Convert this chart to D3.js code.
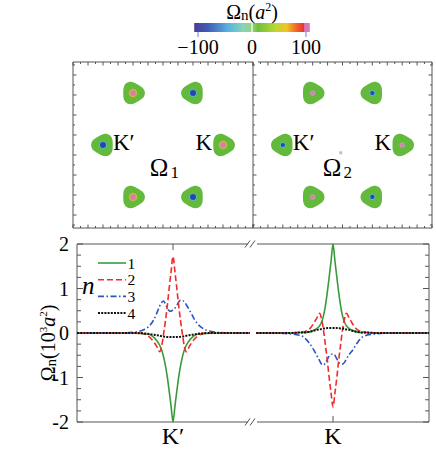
<!DOCTYPE html>
<html><head><meta charset="utf-8">
<script src="https://cdn.jsdelivr.net/npm/d3@7"></script>
<style>body{margin:0;background:#fff}svg{display:block;font-family:"Liberation Serif","DejaVu Serif",serif}</style>
</head><body><svg id="c" width="436" height="453"></svg>
<script>
// ---------- data ----------
const cbTicks = [-100, 0, 100];
const cbTickLabels = ["\u2212100", "0", "100"];
const kAngles = [0, 120, 240];     // K valleys (positive Omega_1)
const kpAngles = [60, 180, 300];   // K' valleys
const mapPanels = ["1", "2"];
const yTicks = [-2, -1, 0, 1, 2];
const seriesNames = ["1", "2", "3", "4"];
const seriesColors = ["#3a9a3a", "#f22a2a", "#2a55c0", "#111111"];
const seriesDash = ["", "6,3", "6,2.5,1.5,2.5", "2,1.2"];
const grid = [-0.6,-0.45,-0.35,-0.3,-0.25,-0.2,-0.17,-0.14,-0.12,-0.1,-0.08,-0.06,-0.04,-0.02,0,
              0.02,0.04,0.06,0.08,0.1,0.12,0.14,0.17,0.2,0.25,0.3,0.35,0.45,0.6];
const dkKp = [-1, ...grid, 0.8];
const dkK = [-0.8, ...grid, 1];
// values at K' (left segment), 10^3 a^2
const n1Kp = [0,0,0,-0.01,-0.02,-0.03,-0.1,-0.17,-0.27,-0.37,-0.52,-0.72,-0.98,-1.3,-1.65,-2,-1.65,-1.3,-0.98,-0.72,-0.52,-0.37,-0.27,-0.17,-0.1,-0.03,-0.02,-0.01,0,0,0];
const n2Kp = [0,0,0,0,-0.02,-0.08,-0.2,-0.3,-0.42,-0.32,-0.05,0.25,0.6,1.0,1.38,1.72,1.38,1.0,0.6,0.25,-0.05,-0.32,-0.42,-0.3,-0.2,-0.08,-0.02,0,0,0,0];
const n3Kp = [0,0,0.01,0.04,0.08,0.15,0.3,0.44,0.6,0.68,0.72,0.66,0.56,0.5,0.49,0.53,0.56,0.62,0.7,0.74,0.73,0.7,0.63,0.52,0.4,0.22,0.12,0.06,0.02,0,0];
const n4Kp = [0,0,0,0,-0.01,-0.02,-0.04,-0.05,-0.06,-0.07,-0.08,-0.085,-0.09,-0.09,-0.09,-0.09,-0.09,-0.09,-0.09,-0.085,-0.08,-0.07,-0.06,-0.05,-0.04,-0.02,-0.01,0,0,0,0];
// values at K (right segment)
const n1K = [0,0,0,0.01,0.01,0.02,0.06,0.1,0.16,0.24,0.38,0.6,0.9,1.25,1.62,2,1.62,1.25,0.9,0.6,0.38,0.24,0.16,0.1,0.06,0.02,0.01,0.01,0,0,0];
const n2K = [0,0,0,0.01,0.03,0.08,0.22,0.33,0.44,0.32,0.08,-0.25,-0.6,-1.0,-1.35,-1.66,-1.35,-1.0,-0.6,-0.25,0.08,0.32,0.44,0.33,0.22,0.08,0.03,0.01,0,0,0];
const n3K = [0,0,-0.02,-0.05,-0.1,-0.22,-0.38,-0.5,-0.62,-0.7,-0.72,-0.68,-0.6,-0.52,-0.48,-0.47,-0.5,-0.58,-0.66,-0.7,-0.7,-0.66,-0.58,-0.48,-0.4,-0.23,-0.1,-0.05,-0.02,0,0];
const n4K = [0,0,0,0.01,0.01,0.03,0.05,0.07,0.08,0.09,0.1,0.1,0.11,0.11,0.11,0.11,0.11,0.11,0.11,0.1,0.1,0.09,0.08,0.07,0.05,0.03,0.01,0.01,0,0,0];

// ---------- drawing ----------
const svg = d3.select("#c");
const frameCol = "#555";

// colorbar
const cb = d3.scaleLinear().domain([-100, 100]).range([198, 306]);
const defs = svg.append("defs");
const grad = defs.append("linearGradient").attr("id", "cbg");
[[0,"#4a3f98"],[0.12,"#3f5db5"],[0.3,"#5ab4e0"],[0.42,"#86d4b8"],[0.5,"#9ad27a"],[0.55,"#6fbf3c"],
 [0.7,"#b8d835"],[0.8,"#f1c324"],[0.88,"#f26a26"],[0.95,"#e5313a"],[0.955,"#d878b8"],[1,"#d878b8"]]
 .forEach(s => grad.append("stop").attr("offset", s[0]).attr("stop-color", s[1]));
svg.append("rect").attr("x", cb(-107)).attr("y", 23).attr("width", cb(107) - cb(-107)).attr("height", 9).attr("fill", "url(#cbg)");
svg.append("line").attr("x1", cb(0)).attr("x2", cb(0)).attr("y1", 23).attr("y2", 32).attr("stroke", "#fff").attr("stroke-width", 1.2);
svg.selectAll(".cbt").data(cbTicks.filter(d => d !== 0)).join("line")
  .attr("x1", d => cb(d)).attr("x2", d => cb(d)).attr("y1", 32).attr("y2", 37).attr("stroke", "#7777cc").attr("stroke-width", 1);
svg.selectAll(".cbl").data(cbTicks).join("text")
  .attr("x", d => cb(d)).attr("y", 54).attr("text-anchor", "middle").attr("font-size", 20)
  .text((d, i) => cbTickLabels[i]);
const ttl = svg.append("text").attr("x", 252).attr("y", 19).attr("text-anchor", "middle").attr("font-size", 20);
ttl.append("tspan").text("\u03A9");
ttl.append("tspan").attr("font-size", 15).attr("dy", 1).text("n");
ttl.append("tspan").attr("dy", -1).text("(");
ttl.append("tspan").attr("font-style", "italic").text("a");
ttl.append("tspan").attr("font-size", 12).attr("dy", -8).text("2");
ttl.append("tspan").attr("dy", 8).text(")");

// map panels
const panelX = [[73, 253], [253, 432]];
const yMap = d3.scaleLinear().domain([1.383, -1.383]).range([62, 228]);
const blobShape = (cx, cy, xs, theta0) => {
  const pts = d3.range(0, 72).map(i => {
    const t = i / 72 * 2 * Math.PI;
    const r = 0.18 * (1 + 0.1 * Math.cos(3 * (t - theta0)));
    return [xs(cx + r * Math.cos(t)), yMap(cy + r * Math.sin(t))];
  });
  return d3.line().curve(d3.curveCardinalClosed)(pts);
};
mapPanels.forEach((p, pi) => {
  const xs = d3.scaleLinear().domain([-1.5, 1.5]).range(panelX[pi]);
  const g = svg.append("g");
  const x0 = panelX[pi][0], x1 = panelX[pi][1];
  // frame
  g.append("line").attr("x1", x0).attr("x2", x0).attr("y1", 62).attr("y2", 228).attr("stroke", frameCol);
  g.append("line").attr("x1", pi ? x0 + 5 : x0).attr("x2", x1).attr("y1", 62).attr("y2", 62).attr("stroke", frameCol);
  g.append("line").attr("x1", x0).attr("x2", x1).attr("y1", 228).attr("y2", 228).attr("stroke", frameCol);
  if (pi) g.append("line").attr("x1", x1).attr("x2", x1).attr("y1", 62).attr("y2", 228).attr("stroke", frameCol);
  const xt = d3.range(-1.5, 1.5001, 0.125);
  xt.forEach((t, i) => {
    const L = i % 2 ? 2 : 3.5;
    g.append("line").attr("x1", xs(t)).attr("x2", xs(t)).attr("y1", 62).attr("y2", 62 + L).attr("stroke", frameCol);
    g.append("line").attr("x1", xs(t)).attr("x2", xs(t)).attr("y1", 228).attr("y2", 228 - L).attr("stroke", frameCol);
  });
  const ytk = d3.range(-8, 9).map(k => k / 6);
  ytk.forEach((t, i) => {
    const L = i % 2 ? 3.5 : 2;
    g.append("line").attr("x1", x0).attr("x2", x0 + L).attr("y1", yMap(t)).attr("y2", yMap(t)).attr("stroke", frameCol);
    if (pi) g.append("line").attr("x1", x1).attr("x2", x1 - L).attr("y1", yMap(t)).attr("y2", yMap(t)).attr("stroke", frameCol);
  });
  // blobs
  const small = pi === 1;
  kAngles.forEach(a => {
    const r = a * Math.PI / 180, cx = Math.cos(r), cy = Math.sin(r);
    g.append("path").attr("d", blobShape(cx, cy, xs, 0)).attr("fill", "#63b93c");
    if (!small) {
      g.append("circle").attr("cx", xs(cx)).attr("cy", yMap(cy)).attr("r", 4.3).attr("fill", "#9fd04a");
      g.append("circle").attr("cx", xs(cx)).attr("cy", yMap(cy)).attr("r", 3.6).attr("fill", "#f0a030");
      g.append("circle").attr("cx", xs(cx)).attr("cy", yMap(cy)).attr("r", 2.7).attr("fill", "#d77db5");
    } else {
      g.append("circle").attr("cx", xs(cx)).attr("cy", yMap(cy)).attr("r", 2.6).attr("fill", "#c9a0b0");
      g.append("circle").attr("cx", xs(cx)).attr("cy", yMap(cy)).attr("r", 1.8).attr("fill", "#d77db5");
    }
  });
  kpAngles.forEach(a => {
    const r = a * Math.PI / 180, cx = Math.cos(r), cy = Math.sin(r);
    g.append("path").attr("d", blobShape(cx, cy, xs, Math.PI)).attr("fill", "#63b93c");
    g.append("circle").attr("cx", xs(cx)).attr("cy", yMap(cy)).attr("r", small ? 2.8 : 3.8).attr("fill", "#5ab8e0");
    g.append("circle").attr("cx", xs(cx)).attr("cy", yMap(cy)).attr("r", small ? 2.1 : 3.0).attr("fill", "#2448b0");
  });
  // labels
  g.append("text").attr("x", xs(-1) + 10).attr("y", 150).attr("font-size", 23).text("K\u2032");
  g.append("text").attr("x", xs(1) - 11).attr("y", 150).attr("text-anchor", "end").attr("font-size", 23).text("K");
  const om = g.append("text").attr("x", xs(small ? -0.33 : -0.22)).attr("y", 176).attr("font-size", 25);
  om.append("tspan").text("\u03A9");
  om.append("tspan").attr("font-size", 17).attr("dx", 2).attr("dy", 2).text(p);
  if (small) g.append("rect").attr("x", xs(-0.03) - 1.5).attr("y", yMap(-0.13) - 1.5).attr("width", 3).attr("height", 3).attr("fill", "#aac8e0");
});

// line panel
const y = d3.scaleLinear().domain([-2, 2]).range([422, 244]);
const xL = d3.scaleLinear().domain([-1, 0.8]).range([77, 249.8]);
const xR = d3.scaleLinear().domain([-0.8, 1]).range([256.2, 429]);
const lp = svg.append("g");
// axes
lp.append("line").attr("x1", 77).attr("x2", 77).attr("y1", 244).attr("y2", 422).attr("stroke", frameCol);
lp.append("line").attr("x1", 429).attr("x2", 429).attr("y1", 244).attr("y2", 422).attr("stroke", frameCol);
[244, 422].forEach(yy => {
  lp.append("line").attr("x1", 77).attr("x2", 248).attr("y1", yy).attr("y2", yy).attr("stroke", frameCol);
  lp.append("line").attr("x1", 257).attr("x2", 429).attr("y1", yy).attr("y2", yy).attr("stroke", frameCol);
  [247.5, 252.5].forEach(bx => lp.append("line").attr("x1", bx - 2.5).attr("x2", bx + 2.5).attr("y1", yy + 3.5).attr("y2", yy - 3.5).attr("stroke", frameCol));
});
d3.range(-2, 2.001, 0.25).forEach(t => {
  const L = Math.abs(t - Math.round(t)) < 1e-6 ? 6 : 4;
  lp.append("line").attr("x1", 77).attr("x2", 77 + L).attr("y1", y(t)).attr("y2", y(t)).attr("stroke", frameCol);
  lp.append("line").attr("x1", 429).attr("x2", 429 - L).attr("y1", y(t)).attr("y2", y(t)).attr("stroke", frameCol);
});
[xL(0), xR(0)].forEach(xx => {
  lp.append("line").attr("x1", xx).attr("x2", xx).attr("y1", 244).attr("y2", 250).attr("stroke", frameCol);
  lp.append("line").attr("x1", xx).attr("x2", xx).attr("y1", 422).attr("y2", 416).attr("stroke", frameCol);
});
lp.selectAll(".yl").data(yTicks).join("text").attr("x", 69).attr("y", d => y(d) + 7).attr("text-anchor", "end").attr("font-size", 20).text(d => d);
lp.append("text").attr("x", xL(0)).attr("y", 444).attr("text-anchor", "middle").attr("font-size", 24).text("K\u2032");
lp.append("text").attr("x", xR(0)).attr("y", 444).attr("text-anchor", "middle").attr("font-size", 24).text("K");
const yl = lp.append("text").attr("transform", "translate(55,343) rotate(-90)").attr("text-anchor", "middle").attr("font-size", 20);
yl.append("tspan").text("\u03A9");
yl.append("tspan").attr("font-size", 15).attr("dy", 1).text("n");
yl.append("tspan").attr("dy", -1).text("(10");
yl.append("tspan").attr("font-size", 11).attr("dy", -8).text("3");
yl.append("tspan").attr("dy", 8).attr("font-style", "italic").text("a");
yl.append("tspan").attr("font-size", 11).attr("dy", -8).text("2");
yl.append("tspan").attr("dy", 8).text(")");

// curves
const seriesKp = [n1Kp, n2Kp, n3Kp, n4Kp];
const seriesK = [n1K, n2K, n3K, n4K];
const order = [0, 2, 1, 3];
order.forEach(i => {
  [[dkKp, seriesKp[i], xL], [dkK, seriesK[i], xR]].forEach(([dk, vals, xs]) => {
    const line = d3.line().x((d, j) => xs(dk[j])).y(d => y(d)).curve(d3.curveMonotoneX);
    lp.append("path").attr("d", line(vals)).attr("fill", "none")
      .attr("stroke", seriesColors[i]).attr("stroke-width", i === 3 ? 2 : 1.6)
      .attr("stroke-dasharray", seriesDash[i] || null);
  });
});
// legend
seriesNames.forEach((nm, i) => {
  const yy = 263 + i * 16.7;
  lp.append("line").attr("x1", 98).attr("x2", 126).attr("y1", yy).attr("y2", yy)
    .attr("stroke", seriesColors[i]).attr("stroke-width", i === 3 ? 2 : 1.6).attr("stroke-dasharray", seriesDash[i] || null);
  lp.append("text").attr("x", 127.5).attr("y", yy + 5.5).attr("font-size", 15.5).text(nm);
});
lp.append("text").attr("x", 82).attr("y", 294).attr("font-size", 25).attr("font-style", "italic").text("n");
</script></body></html>
